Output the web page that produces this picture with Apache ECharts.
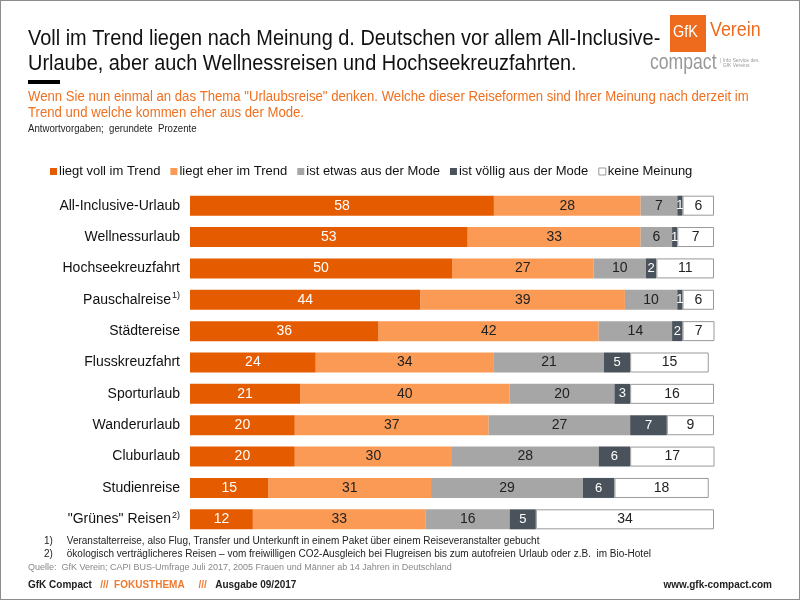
<!DOCTYPE html>
<html><head><meta charset="utf-8">
<script src="https://cdn.jsdelivr.net/npm/echarts@6/dist/echarts.min.js"></script>
<style>
html,body{margin:0;padding:0;background:#fff;}
#frame{position:absolute;left:0;top:0;width:798px;height:598px;border:1px solid #8c8c8c;}
#chart{position:absolute;left:0;top:0;width:800px;height:600px;}
</style></head>
<body><div id="frame"></div><div id="chart"></div>
<script>
// Daten
const categories = ['All-Inclusive-Urlaub', 'Wellnessurlaub', 'Hochseekreuzfahrt', 'Pauschalreise', 'Städtereise',
  'Flusskreuzfahrt', 'Sporturlaub', 'Wanderurlaub', 'Cluburlaub', 'Studienreise', '"Grünes" Reisen'];
const vollImTrend = [58, 53, 50, 44, 36, 24, 21, 20, 20, 15, 12];
const eherImTrend = [28, 33, 27, 39, 42, 34, 40, 37, 30, 31, 33];
const etwasAusMode = [7, 6, 10, 10, 14, 21, 20, 27, 28, 29, 16];
const voelligAusMode = [1, 1, 2, 1, 2, 5, 3, 7, 6, 6, 5];
const keineMeinung = [6, 7, 11, 6, 7, 15, 16, 9, 17, 18, 34];
const seriesNames = ['liegt voll im Trend', 'liegt eher im Trend', 'ist etwas aus der Mode', 'ist völlig aus der Mode', 'keine Meinung'];

(function () {
  let myChart = echarts.init(document.getElementById('chart'));
  const font = 'Liberation Sans, Arial, sans-serif';
  const colors = ['#E55C00', '#FA9A55', '#A6A6A6', '#4A535B', '#FFFFFF'];
  const labelColors = ['#fff', '#222', '#222', '#fff', '#222'];
  const datas = [vollImTrend, eherImTrend, etwasAusMode, voelligAusMode, keineMeinung];
  const sups = { 'Pauschalreise': '1)', '"Grünes" Reisen': '2)' };

  let option = {
    animation: false,
    textStyle: { fontFamily: font },
    graphic: [
      { type: 'text', x: 28, y: 26, scaleX: 0.905, style: { text: 'Voll im Trend liegen nach Meinung d. Deutschen vor allem All-Inclusive-\nUrlaube, aber auch Wellnessreisen und Hochseekreuzfahrten.', font: '22px ' + font, fill: '#111', lineHeight: 25 } },
      { type: 'rect', shape: { x: 28, y: 80, width: 32, height: 4 }, style: { fill: '#000' } },
      { type: 'text', x: 28, y: 89, scaleX: 0.94, style: { text: 'Wenn Sie nun einmal an das Thema "Urlaubsreise" denken. Welche dieser Reiseformen sind Ihrer Meinung nach derzeit im\nTrend und welche kommen eher aus der Mode.', font: '14px ' + font, fill: '#F07020', lineHeight: 16 } },
      { type: 'text', x: 28, y: 124, scaleX: 0.92, style: { text: 'Antwortvorgaben;  gerundete  Prozente', font: '10.5px ' + font, fill: '#222' } },
      // Logo
      { type: 'rect', shape: { x: 670, y: 15, width: 36, height: 37 }, style: { fill: '#EE6A1C' } },
      { type: 'text', x: 673, y: 24, scaleX: 0.85, style: { text: 'GfK', font: '17px ' + font, fill: '#fff' } },
      { type: 'text', x: 710, y: 20, scaleX: 0.85, style: { text: 'Verein', font: '21px ' + font, fill: '#EE6A1C' } },
      { type: 'text', x: 650, y: 52, scaleX: 0.8, style: { text: 'compact', font: '22px ' + font, fill: '#999' } },
      { type: 'text', x: 720, y: 58, style: { text: '| Info Service des\n  GfK Vereins', font: '5px ' + font, fill: '#999' } },
      // Fußnoten
      { type: 'text', left: 44, top: 535, style: { text: '1)     Veranstalterreise, also Flug, Transfer und Unterkunft in einem Paket über einem Reiseveranstalter gebucht\n2)     ökologisch verträglicheres Reisen – vom freiwilligen CO2-Ausgleich bei Flugreisen bis zum autofreien Urlaub oder z.B.  im Bio-Hotel', font: '10px ' + font, fill: '#222', lineHeight: 13 } },
      { type: 'text', left: 28, top: 563, style: { text: 'Quelle:  GfK Verein; CAPI BUS-Umfrage Juli 2017, 2005 Frauen und Männer ab 14 Jahren in Deutschland', font: '9px ' + font, fill: '#888' } },
      { type: 'text', left: 28, top: 580, style: { text: '{b|GfK Compact}   {o|///  FOKUSTHEMA}     {o|///}   {b|Ausgabe 09/2017}', font: '10px ' + font, rich: { b: { fontWeight: 'bold', fill: '#222', fontSize: 10 }, o: { fill: '#EE7A30', fontWeight: 'bold', fontSize: 10 } } } },
      { type: 'text', right: 28, top: 580, style: { text: 'www.gfk-compact.com', font: 'bold 10px ' + font, fill: '#222' } }
    ],
    legend: {
      top: 160, left: 45, itemWidth: 7, itemHeight: 7, itemGap: 10, icon: 'rect',
      textStyle: { fontSize: 13, color: '#111', padding: [0, 0, 0, -3] },
      data: seriesNames.map((n, i) => ({ name: n, itemStyle: i === 4 ? { borderColor: '#999', borderWidth: 1 } : {} }))
    },
    grid: { left: 190, right: 86, top: 190, height: 345 },
    xAxis: { type: 'value', min: 0, max: 100, show: false },
    yAxis: {
      type: 'category', inverse: true, data: categories,
      axisLine: { show: false }, axisTick: { show: false },
      axisLabel: {
        fontSize: 14, color: '#111', margin: 10,
        formatter: v => sups[v] ? v + '{s|' + sups[v] + '}' : v,
        rich: { s: { fontSize: 9, verticalAlign: 'top', padding: [0, 0, 8, 1], color: '#111' } }
      }
    },
    series: seriesNames.map((n, i) => ({
      name: n, type: 'bar', stack: 'total', barWidth: 20, data: datas[i],
      itemStyle: { color: colors[i], borderColor: i === 4 ? '#999' : colors[i], borderWidth: i === 4 ? 1 : 0 },
      label: { show: true, position: 'inside', color: labelColors[i], fontSize: i === 3 ? 13 : 14 }
    }))
  };

  myChart.setOption(option);
})();
</script></body></html>
